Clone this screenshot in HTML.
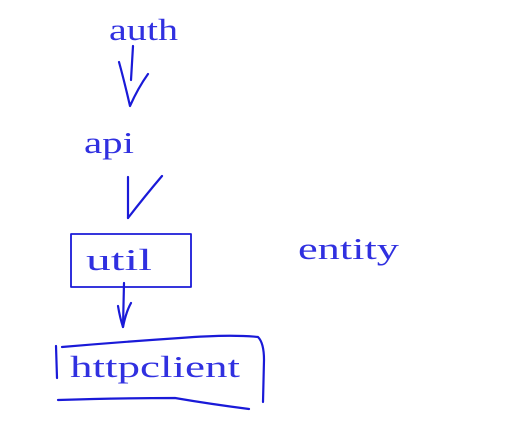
<!DOCTYPE html>
<html><head><style>
html,body{margin:0;padding:0;background:#fff;}
svg{display:block;}
text{font-family:"Liberation Serif",serif;font-size:31px;fill:#3030e0;}
</style></head><body>
<svg width="520" height="428" viewBox="0 0 520 428" xmlns="http://www.w3.org/2000/svg">
<text x="109" y="40" textLength="69" lengthAdjust="spacingAndGlyphs">auth</text>
<text x="84" y="153" textLength="50" lengthAdjust="spacingAndGlyphs">api</text>
<text x="86" y="270" textLength="66" lengthAdjust="spacingAndGlyphs">util</text>
<text x="298" y="259" textLength="101" lengthAdjust="spacingAndGlyphs">entity</text>
<text x="70" y="377" textLength="170" lengthAdjust="spacingAndGlyphs">httpclient</text>
<g fill="none" stroke="#1a1ad8" stroke-width="2.2" stroke-linecap="round" stroke-linejoin="round">
<path d="M133 46 L131 80"/>
<path d="M119 62 Q124 80 130 106 Q138 88 148 74"/>
<path d="M128 177 L128 218"/>
<path d="M128 218 Q145 196 162 176"/>
<rect x="71" y="234" width="120" height="53" stroke-width="1.8"/>
<path d="M124 283 L123 327"/>
<path d="M118 306 Q120 318 123 327 Q126 312 131 303"/>
<path d="M56 346 L57 378"/>
<path d="M62 347 Q120 342 180 338 Q230 334 258 337 Q264 343 264 360 L263 402"/>
<path d="M58 400 Q120 398 175 398 Q210 404 249 409"/>
</g>
</svg>
</body></html>
